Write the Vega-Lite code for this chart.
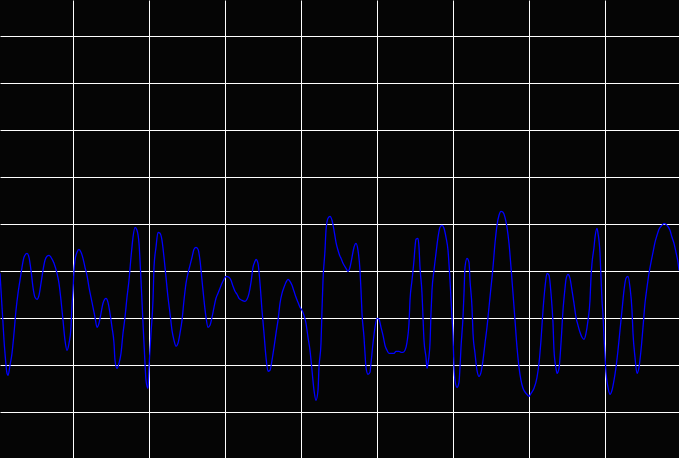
{
  "$schema": "https://vega.github.io/schema/vega-lite/v6.json",
  "width": 679,
  "height": 458,
  "autosize": {"type": "fit", "contains": "padding"},
  "padding": 0,
  "background": "#050505",
  "config": {"view": {"stroke": null, "fill": "#050505"}},
  "data": {"values": [
    {"t":0,"v":-2},{"t":1,"v":-19},{"t":3,"v":-52},{"t":4,"v":-69},{"t":5,"v":-82},{"t":7,"v":-102},{"t":8,"v":-104},{"t":10,"v":-94},{"t":12,"v":-82},{"t":14,"v":-62},{"t":16,"v":-39},{"t":18,"v":-22},{"t":20,"v":-9},{"t":22,"v":4},{"t":24,"v":14},{"t":27,"v":18},{"t":29,"v":14},{"t":31,"v":1},{"t":33,"v":-16},{"t":35,"v":-26},{"t":37,"v":-28},{"t":39,"v":-24},{"t":41,"v":-12},{"t":43,"v":1},{"t":45,"v":11},{"t":47,"v":15},{"t":49,"v":16},{"t":51,"v":14},{"t":54,"v":8},{"t":57,"v":-2},{"t":59,"v":-12},{"t":61,"v":-29},{"t":63,"v":-49},{"t":65,"v":-69},{"t":67,"v":-79},{"t":69,"v":-72},{"t":71,"v":-56},{"t":72,"v":-34},{"t":73,"v":-19},{"t":74,"v":1},{"t":75,"v":11},{"t":77,"v":19},{"t":79,"v":22},{"t":81,"v":19},{"t":83,"v":13},{"t":85,"v":4},{"t":87,"v":-4},{"t":89,"v":-16},{"t":91,"v":-26},{"t":93,"v":-36},{"t":95,"v":-46},{"t":97,"v":-56},{"t":99,"v":-52},{"t":101,"v":-42},{"t":103,"v":-32},{"t":106,"v":-27},{"t":108,"v":-31},{"t":110,"v":-42},{"t":112,"v":-56},{"t":114,"v":-72},{"t":115,"v":-89},{"t":117,"v":-97},{"t":119,"v":-92},{"t":121,"v":-82},{"t":123,"v":-62},{"t":125,"v":-46},{"t":127,"v":-26},{"t":129,"v":-9},{"t":131,"v":14},{"t":133,"v":34},{"t":135,"v":44},{"t":137,"v":41},{"t":139,"v":28},{"t":141,"v":-9},{"t":143,"v":-52},{"t":145,"v":-92},{"t":146,"v":-109},{"t":148,"v":-117},{"t":149,"v":-96},{"t":151,"v":-62},{"t":153,"v":-29},{"t":154,"v":4},{"t":156,"v":24},{"t":158,"v":39},{"t":160,"v":38},{"t":162,"v":31},{"t":164,"v":14},{"t":166,"v":-6},{"t":168,"v":-26},{"t":170,"v":-42},{"t":172,"v":-59},{"t":174,"v":-69},{"t":176,"v":-75},{"t":178,"v":-72},{"t":180,"v":-62},{"t":182,"v":-49},{"t":184,"v":-29},{"t":186,"v":-12},{"t":188,"v":-2},{"t":190,"v":6},{"t":192,"v":14},{"t":194,"v":22},{"t":196,"v":24},{"t":198,"v":22},{"t":200,"v":11},{"t":202,"v":-9},{"t":204,"v":-29},{"t":206,"v":-46},{"t":208,"v":-56},{"t":210,"v":-54},{"t":212,"v":-46},{"t":214,"v":-36},{"t":216,"v":-27},{"t":218,"v":-22},{"t":220,"v":-17},{"t":222,"v":-12},{"t":224,"v":-8},{"t":226,"v":-5},{"t":229,"v":-6},{"t":231,"v":-9},{"t":233,"v":-15},{"t":235,"v":-20},{"t":237,"v":-23},{"t":239,"v":-27},{"t":242,"v":-29},{"t":245,"v":-30},{"t":247,"v":-28},{"t":249,"v":-22},{"t":251,"v":-11},{"t":253,"v":4},{"t":255,"v":10},{"t":256,"v":12},{"t":258,"v":8},{"t":260,"v":-12},{"t":262,"v":-39},{"t":264,"v":-62},{"t":266,"v":-86},{"t":268,"v":-100},{"t":270,"v":-99},{"t":272,"v":-89},{"t":274,"v":-76},{"t":276,"v":-62},{"t":278,"v":-49},{"t":280,"v":-32},{"t":282,"v":-22},{"t":284,"v":-16},{"t":286,"v":-11},{"t":288,"v":-8},{"t":290,"v":-10},{"t":292,"v":-14},{"t":294,"v":-20},{"t":296,"v":-26},{"t":298,"v":-31},{"t":300,"v":-36},{"t":302,"v":-39},{"t":304,"v":-44},{"t":306,"v":-52},{"t":308,"v":-66},{"t":310,"v":-79},{"t":312,"v":-99},{"t":314,"v":-119},{"t":316,"v":-129},{"t":318,"v":-119},{"t":319,"v":-96},{"t":321,"v":-72},{"t":322,"v":-39},{"t":323,"v":-9},{"t":325,"v":21},{"t":326,"v":41},{"t":328,"v":53},{"t":330,"v":55},{"t":332,"v":51},{"t":334,"v":41},{"t":336,"v":29},{"t":338,"v":21},{"t":340,"v":15},{"t":341,"v":13},{"t":343,"v":8},{"t":346,"v":3},{"t":348,"v":0},{"t":350,"v":4},{"t":352,"v":14},{"t":354,"v":24},{"t":356,"v":28},{"t":358,"v":21},{"t":360,"v":1},{"t":361,"v":-19},{"t":362,"v":-42},{"t":364,"v":-66},{"t":365,"v":-82},{"t":366,"v":-96},{"t":368,"v":-103},{"t":370,"v":-101},{"t":371,"v":-92},{"t":373,"v":-72},{"t":375,"v":-56},{"t":377,"v":-47},{"t":379,"v":-48},{"t":381,"v":-56},{"t":383,"v":-64},{"t":385,"v":-74},{"t":387,"v":-79},{"t":389,"v":-82},{"t":391,"v":-82},{"t":394,"v":-82},{"t":396,"v":-80},{"t":399,"v":-80},{"t":401,"v":-81},{"t":403,"v":-81},{"t":405,"v":-79},{"t":407,"v":-71},{"t":409,"v":-52},{"t":410,"v":-29},{"t":412,"v":-9},{"t":414,"v":11},{"t":415,"v":24},{"t":416,"v":32},{"t":418,"v":33},{"t":419,"v":24},{"t":420,"v":4},{"t":422,"v":-22},{"t":423,"v":-46},{"t":424,"v":-69},{"t":426,"v":-86},{"t":427,"v":-97},{"t":428,"v":-92},{"t":430,"v":-72},{"t":431,"v":-42},{"t":432,"v":-19},{"t":434,"v":1},{"t":436,"v":18},{"t":438,"v":34},{"t":440,"v":44},{"t":442,"v":46},{"t":444,"v":43},{"t":446,"v":34},{"t":448,"v":21},{"t":450,"v":-9},{"t":452,"v":-46},{"t":453,"v":-64},{"t":454,"v":-96},{"t":455,"v":-109},{"t":457,"v":-116},{"t":459,"v":-111},{"t":460,"v":-96},{"t":461,"v":-76},{"t":463,"v":-46},{"t":464,"v":-22},{"t":465,"v":4},{"t":467,"v":13},{"t":469,"v":9},{"t":470,"v":-9},{"t":472,"v":-36},{"t":473,"v":-62},{"t":475,"v":-82},{"t":477,"v":-99},{"t":479,"v":-105},{"t":481,"v":-101},{"t":483,"v":-89},{"t":485,"v":-72},{"t":487,"v":-56},{"t":489,"v":-36},{"t":491,"v":-16},{"t":493,"v":4},{"t":495,"v":28},{"t":497,"v":46},{"t":499,"v":56},{"t":501,"v":60},{"t":503,"v":59},{"t":505,"v":54},{"t":507,"v":44},{"t":509,"v":28},{"t":511,"v":4},{"t":513,"v":-22},{"t":515,"v":-49},{"t":517,"v":-76},{"t":519,"v":-96},{"t":521,"v":-109},{"t":523,"v":-117},{"t":526,"v":-122},{"t":529,"v":-125},{"t":531,"v":-122},{"t":534,"v":-117},{"t":537,"v":-106},{"t":539,"v":-92},{"t":541,"v":-69},{"t":543,"v":-39},{"t":545,"v":-16},{"t":547,"v":-2},{"t":549,"v":-4},{"t":551,"v":-22},{"t":553,"v":-52},{"t":554,"v":-79},{"t":556,"v":-97},{"t":557,"v":-102},{"t":559,"v":-97},{"t":561,"v":-72},{"t":563,"v":-39},{"t":565,"v":-17},{"t":566,"v":-8},{"t":568,"v":-3},{"t":570,"v":-7},{"t":572,"v":-19},{"t":574,"v":-32},{"t":576,"v":-46},{"t":578,"v":-54},{"t":580,"v":-61},{"t":582,"v":-66},{"t":584,"v":-68},{"t":586,"v":-62},{"t":588,"v":-49},{"t":590,"v":-29},{"t":591,"v":-6},{"t":592,"v":8},{"t":594,"v":24},{"t":595,"v":34},{"t":597,"v":43},{"t":598,"v":38},{"t":600,"v":18},{"t":601,"v":-6},{"t":602,"v":-29},{"t":603,"v":-44},{"t":604,"v":-66},{"t":605,"v":-84},{"t":606,"v":-101},{"t":608,"v":-116},{"t":610,"v":-123},{"t":612,"v":-119},{"t":614,"v":-109},{"t":616,"v":-96},{"t":618,"v":-79},{"t":620,"v":-59},{"t":622,"v":-39},{"t":624,"v":-19},{"t":626,"v":-7},{"t":628,"v":-5},{"t":630,"v":-16},{"t":632,"v":-39},{"t":633,"v":-62},{"t":635,"v":-86},{"t":637,"v":-102},{"t":639,"v":-96},{"t":641,"v":-79},{"t":643,"v":-56},{"t":645,"v":-32},{"t":647,"v":-16},{"t":649,"v":-2},{"t":651,"v":9},{"t":653,"v":19},{"t":655,"v":29},{"t":657,"v":36},{"t":659,"v":42},{"t":662,"v":46},{"t":664,"v":48},{"t":667,"v":46},{"t":670,"v":41},{"t":672,"v":34},{"t":674,"v":28},{"t":676,"v":19},{"t":678,"v":9},{"t":679,"v":1}
  ]},
  "mark": {"type": "line", "color": "#0000ff", "strokeWidth": 1.3, "interpolate": "monotone", "clip": true},
  "encoding": {
    "x": {
      "field": "t", "type": "quantitative",
      "scale": {"domain": [0, 679], "nice": false, "zero": false},
      "axis": {"title": null, "labels": false, "ticks": false, "domain": false, "grid": true, "gridColor": "#ffffff", "gridOpacity": 1, "gridWidth": 1,
               "values": [73.3, 149.3, 225.3, 301.3, 377.3, 453.3, 529.3, 605.3]}
    },
    "y": {
      "field": "v", "type": "quantitative",
      "scale": {"domain": [-186.7, 271.3], "nice": false, "zero": false},
      "axis": {"title": null, "labels": false, "ticks": false, "domain": false, "grid": true, "gridColor": "#ffffff", "gridOpacity": 1, "gridWidth": 1,
               "values": [235, 188, 141, 94, 47, 0, -47, -94, -141]}
    }
  }
}
